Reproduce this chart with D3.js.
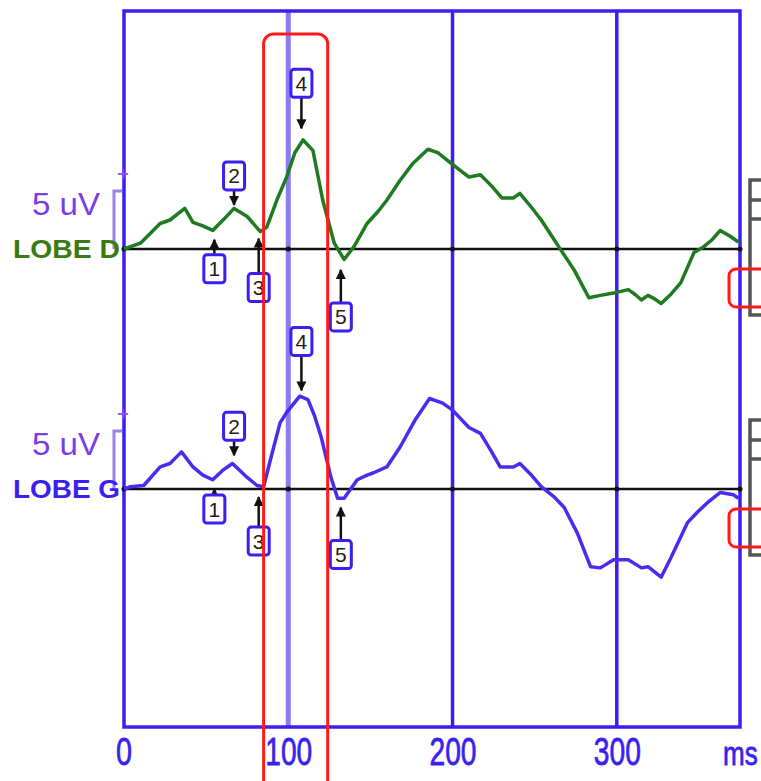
<!DOCTYPE html>
<html>
<head>
<meta charset="utf-8">
<script src="https://cdn.jsdelivr.net/npm/d3@7"></script>
<style>
  body { margin: 0; background: #fff; }
  svg { display: block; }
</style>
</head>
<body>
<script>
const W = 761;
const H = 781;

// time axis (ms) and grid
const xTicks = [0, 100, 200, 300];
const gridTimes = [200, 300];
const lightGridTimes = [100];
const windowTimes = [85, 124];

// LOBE D trace (ms, uV)
const timesD = [0, 10, 22, 28, 37, 42, 48, 54, 61, 67, 75, 83, 87, 93, 99, 104, 109, 115, 121, 128, 134, 140, 148, 155, 160, 168, 176, 185, 191, 199, 210, 217, 224, 230, 237, 241, 248, 254, 260, 266, 274, 283, 290, 298, 307, 311, 315, 319, 323, 327, 333, 339, 347, 353, 358, 363, 369, 374];
const valuesD = [0, 0.5, 2.2, 2.5, 3.5, 2.3, 2.0, 1.6, 2.6, 3.5, 2.8, 1.5, 1.9, 4.2, 6.2, 8.3, 9.4, 8.5, 4.2, 0.5, -0.9, 0.2, 2.2, 3.3, 4.2, 5.9, 7.4, 8.6, 8.3, 7.4, 6.2, 6.4, 5.4, 4.4, 4.4, 4.8, 3.6, 2.5, 1.2, -0.1, -1.8, -4.2, -4.0, -3.8, -3.5, -3.9, -4.4, -4.0, -4.3, -4.7, -3.9, -2.9, -0.3, 0.2, 0.8, 1.6, 1.1, 0.6];

// LOBE G trace (ms, uV)
const timesG = [0, 4, 12, 22, 28, 35, 42, 48, 54, 60, 66, 75, 81, 85, 90, 95, 99, 107, 112, 116, 120, 126, 130, 134, 142, 148, 152, 160, 168, 177, 186, 194, 200, 210, 217, 223, 229, 237, 241, 248, 254, 262, 268, 276, 284, 290, 298, 307, 315, 319, 327, 333, 343, 349, 355, 363, 371, 374];
const valuesG = [0, 0.2, 0.3, 1.9, 2.2, 3.2, 1.9, 1.2, 0.8, 1.6, 2.2, 1.0, 0.3, 0.2, 3.0, 5.7, 6.6, 8.0, 7.7, 6.3, 4.5, 1.0, -0.8, -0.8, 0.8, 1.2, 1.4, 1.9, 3.6, 5.9, 7.8, 7.4, 6.8, 5.3, 4.8, 3.4, 1.9, 1.9, 2.2, 1.2, 0.2, -0.7, -1.6, -3.8, -6.7, -6.8, -6.1, -6.1, -6.8, -6.7, -7.6, -5.9, -2.9, -2.0, -1.2, -0.3, -0.5, -0.8];

// peak markers: label, latency, arrow tip (uV), side of the box
const markerLabels = ["1", "2", "3", "4", "5"];
const markerTimes = [55, 67, 82, 108, 132];
const markerTipsD = [0.8, 3.8, 0.9, 10.4, -1.8];
const markerTipsG = [0.0, 2.9, -0.7, 8.5, -1.6];
const markerSide = ["below", "above", "below", "above", "below"];
const markerGapD = [15, 15, 35, 31, 33];
const markerGapG = [6, 15, 30, 35, 33];

const channels = [
  { name: "LOBE D", times: timesD, values: valuesD, tips: markerTipsD, gaps: markerGapD, base: 249, color: "#1f7a22", labelColor: "#3b7a12" },
  { name: "LOBE G", times: timesG, values: valuesG, tips: markerTipsG, gaps: markerGapG, base: 489, color: "#4a2cf0", labelColor: "#3a1ff0" }
];

const frameColor = "#3a1ff0";
const frame = { left: 124, right: 740, top: 11, bottom: 727 };

const x = d3.scaleLinear().domain([0, 375]).range([frame.left, frame.right]);

const svg = d3.select("body")
  .append("svg")
  .attr("width", W)
  .attr("height", H);

// grid lines
svg.selectAll(".grid-light")
  .data(lightGridTimes)
  .enter()
  .append("line")
  .attr("x1", d => x(d)).attr("x2", d => x(d))
  .attr("y1", frame.top).attr("y2", frame.bottom)
  .attr("stroke", "#8c7cf4")
  .attr("stroke-width", 5);

svg.selectAll(".grid")
  .data(gridTimes)
  .enter()
  .append("line")
  .attr("x1", d => x(d)).attr("x2", d => x(d))
  .attr("y1", frame.top).attr("y2", frame.bottom)
  .attr("stroke", frameColor)
  .attr("stroke-width", 3.5);

// frame
svg.append("rect")
  .attr("x", frame.left)
  .attr("y", frame.top)
  .attr("width", frame.right - frame.left)
  .attr("height", frame.bottom - frame.top)
  .attr("fill", "none")
  .attr("stroke", frameColor)
  .attr("stroke-width", 3.5);

// x tick labels (squeezed to the reference's narrow face)
svg.selectAll(".tick-label")
  .data(xTicks)
  .enter()
  .append("text")
  .attr("x", d => x(d) - (d === 0 ? 8 : 23))
  .attr("y", 765)
  .attr("font-family", "'Liberation Sans', sans-serif")
  .attr("font-size", 39)
  .attr("textLength", d => d === 0 ? 16 : 47)
  .attr("lengthAdjust", "spacingAndGlyphs")
  .attr("fill", frameColor)
  .attr("stroke", frameColor)
  .attr("stroke-width", 0.8)
  .text(d => d);

// unit label, kept inside the right edge
svg.append("text")
  .attr("transform", "translate(723,765) scale(1,1.25)")
  .attr("font-family", "'Liberation Sans', sans-serif")
  .attr("font-size", 26)
  .attr("fill", frameColor)
  .attr("stroke", frameColor)
  .attr("stroke-width", 0.6)
  .text("ms");

// arrow head
svg.append("defs")
  .append("marker")
  .attr("id", "arrow")
  .attr("viewBox", "0 -5 10 10")
  .attr("markerWidth", 4)
  .attr("markerHeight", 4)
  .attr("refX", 9)
  .attr("refY", 0)
  .attr("orient", "auto")
  .append("path")
  .attr("d", "M 0 -5 L 10 0 L 0 5 Z")
  .attr("fill", "#111");

channels.forEach(ch => {
  const y = d3.scaleLinear().domain([0, 5]).range([ch.base, ch.base - 58]);

  // baseline
  svg.append("line")
    .attr("x1", x(0)).attr("x2", x(375))
    .attr("y1", y(0)).attr("y2", y(0))
    .attr("stroke", "#111")
    .attr("stroke-width", 2.5);

  svg.selectAll(null)
    .data([0, 100, 200, 300, 375])
    .enter()
    .append("circle")
    .attr("cx", d => x(d))
    .attr("cy", y(0))
    .attr("r", 2.5)
    .attr("fill", "#111");

  // trace
  const line = d3.line()
    .x((d, i) => x(ch.times[i]))
    .y(d => y(d))
    .curve(d3.curveLinear);

  svg.append("path")
    .datum(ch.values)
    .attr("d", line)
    .attr("fill", "none")
    .attr("stroke", ch.color)
    .attr("stroke-width", 3.5)
    .attr("stroke-linejoin", "round");

  // amplitude scale bar
  svg.append("path")
    .attr("d", `M ${x(0) - 2} ${y(5)} L ${x(0) - 10} ${y(5)} L ${x(0) - 10} ${y(0)}`)
    .attr("fill", "none")
    .attr("stroke", "#9a82ee")
    .attr("stroke-width", 3);

  svg.append("text")
    .attr("x", x(0) - 1)
    .attr("y", y(6.0))
    .attr("text-anchor", "middle")
    .attr("font-family", "'DejaVu Sans', sans-serif")
    .attr("font-size", 16)
    .attr("font-weight", "bold")
    .attr("fill", "#8a4cf0")
    .text("+");

  svg.append("text")
    .attr("x", 32)
    .attr("y", y(3.9))
    .attr("dy", "0.35em")
    .attr("font-family", "'Liberation Sans', sans-serif")
    .attr("font-size", 31)
    .attr("textLength", 68)
    .attr("lengthAdjust", "spacingAndGlyphs")
    .attr("fill", "#7a3ce6")
    .text("5 uV");

  svg.append("text")
    .attr("x", 13)
    .attr("y", y(0))
    .attr("dy", "0.36em")
    .attr("font-family", "'Liberation Sans', sans-serif")
    .attr("font-size", 25)
    .attr("font-weight", "bold")
    .attr("textLength", 107)
    .attr("lengthAdjust", "spacingAndGlyphs")
    .attr("fill", ch.labelColor)
    .text(ch.name);

  // peak markers
  markerLabels.forEach((lab, i) => {
    const tx = x(markerTimes[i]);
    const ty = y(ch.tips[i]);
    const above = markerSide[i] === "above";
    const gap = ch.gaps[i];
    const bh = 28, bw = 21;
    const edge = above ? ty - gap : ty + gap;
    const by = above ? edge - bh : edge;

    svg.append("line")
      .attr("x1", tx).attr("x2", tx)
      .attr("y1", edge).attr("y2", ty)
      .attr("stroke", "#111")
      .attr("stroke-width", 2.5)
      .attr("marker-end", "url(#arrow)");

    svg.append("rect")
      .attr("x", tx - bw / 2)
      .attr("y", by)
      .attr("width", bw)
      .attr("height", bh)
      .attr("rx", 3)
      .attr("fill", "#fff")
      .attr("stroke", frameColor)
      .attr("stroke-width", 3);

    svg.append("text")
      .attr("x", tx)
      .attr("y", by + bh / 2)
      .attr("dy", "0.36em")
      .attr("text-anchor", "middle")
      .attr("font-family", "'Liberation Sans', sans-serif")
      .attr("font-size", 21)
      .attr("fill", "#2a1a10")
      .text(lab);
  });

  // side bracket at the right edge
  const br = ch.base - 69;
  svg.append("path")
    .attr("d", `M 761 ${br} L 750 ${br} L 750 ${br + 135} L 761 ${br + 135} M 750 ${br + 20} L 761 ${br + 20} M 750 ${br + 39} L 761 ${br + 39}`)
    .attr("fill", "none")
    .attr("stroke", "#555")
    .attr("stroke-width", 3.5);

  svg.append("rect")
    .attr("x", 729)
    .attr("y", ch.base + 20)
    .attr("width", 50)
    .attr("height", 38)
    .attr("rx", 7)
    .attr("fill", "none")
    .attr("stroke", "#ff1a1a")
    .attr("stroke-width", 3);
});

// analysis window
svg.append("rect")
  .attr("x", x(windowTimes[0]))
  .attr("y", 34)
  .attr("width", x(windowTimes[1]) - x(windowTimes[0]))
  .attr("height", 800)
  .attr("rx", 10)
  .attr("fill", "none")
  .attr("stroke", "#ff1a1a")
  .attr("stroke-width", 3);
</script>
</body>
</html>
